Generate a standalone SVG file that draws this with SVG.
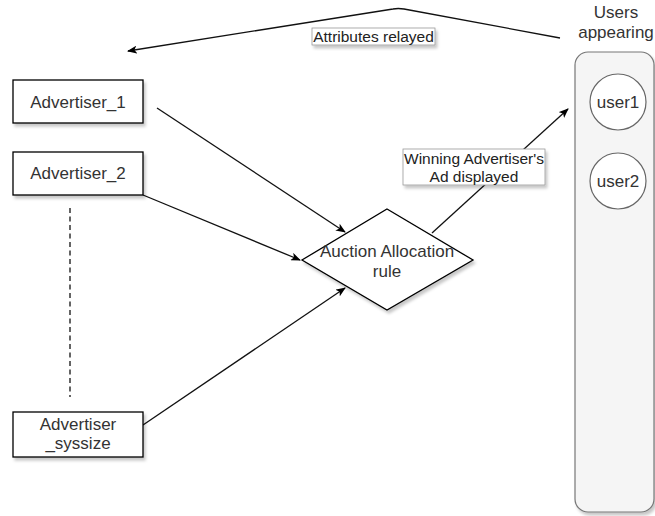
<svg xmlns="http://www.w3.org/2000/svg" width="655" height="516" viewBox="0 0 655 516">
<style>
.box{fill:#fff;stroke:#000;stroke-width:1.3}
.t{font-family:"Liberation Sans",Arial,sans-serif;font-size:17px;fill:#333;text-anchor:middle}
.lbl{font-family:"Liberation Sans",Arial,sans-serif;font-size:15.5px;fill:#222;text-anchor:middle}
.lb{fill:#fff;stroke:#999;stroke-width:0.8}
.ln{fill:none;stroke:#111;stroke-width:1.3}
</style>
<defs>
<filter id="sh" x="-20%" y="-20%" width="150%" height="150%">
<feDropShadow dx="2" dy="3" stdDeviation="1.5" flood-color="#000" flood-opacity="0.22"/>
</filter>
<marker id="ar" viewBox="0 0 10 8" refX="9" refY="4" markerWidth="10" markerHeight="8" markerUnits="userSpaceOnUse" orient="auto">
<path d="M0,0 L10,4 L0,8 L2.5,4 z" fill="#000"/>
</marker>
</defs>
<g id="users">
<rect x="575" y="52" width="79" height="460" rx="13" fill="#f5f5f5" stroke="#777" stroke-width="1.2" filter="url(#sh)"/>
<text class="t" x="616" y="18">Users</text>
<text class="t" x="616" y="38">appearing</text>
</g>
<g id="user1">
<circle cx="618" cy="102" r="28" fill="#fff" stroke="#666" stroke-width="1.2"/>
<text class="t" x="618" y="108">user1</text>
</g>
<g id="user2">
<circle cx="618" cy="181" r="28" fill="#fff" stroke="#666" stroke-width="1.2"/>
<text class="t" x="618" y="187">user2</text>
</g>
<g id="connectors">
<line class="ln" x1="70" y1="208" x2="70" y2="397" stroke-dasharray="5 3.5"/>
<line class="ln" x1="157" y1="108" x2="345" y2="232" marker-end="url(#ar)"/>
<line class="ln" x1="143" y1="195" x2="300" y2="260" marker-end="url(#ar)"/>
<line class="ln" x1="143" y1="425" x2="345" y2="288" marker-end="url(#ar)"/>
<line class="ln" x1="432" y1="233" x2="568" y2="109" marker-end="url(#ar)"/>
<path class="ln" d="M560,38 L404,9 Q398,8 393,9 L128,51" marker-end="url(#ar)"/>
</g>
<g id="label-attributes">
<rect class="lb" x="312" y="28" width="123" height="17" filter="url(#sh)"/>
<text class="lbl" x="373.5" y="42">Attributes relayed</text>
</g>
<g id="label-winning">
<rect class="lb" x="403" y="149" width="142" height="36" filter="url(#sh)"/>
<text class="lbl" x="474" y="164">Winning Advertiser's</text>
<text class="lbl" x="474" y="182">Ad displayed</text>
</g>
<g id="advertiser1">
<rect class="box" x="13" y="80" width="130" height="43" filter="url(#sh)"/>
<text class="t" x="78" y="108">Advertiser_1</text>
</g>
<g id="advertiser2">
<rect class="box" x="13" y="152" width="130" height="43" filter="url(#sh)"/>
<text class="t" x="78" y="179">Advertiser_2</text>
</g>
<g id="advertiser-syssize">
<rect class="box" x="13" y="412" width="130" height="45" filter="url(#sh)"/>
<text class="t" x="78" y="430">Advertiser</text>
<text class="t" x="78" y="449">_syssize</text>
</g>
<g id="auction">
<polygon class="box" points="387,209 473,260 387,310 302,260" filter="url(#sh)"/>
<text class="t" x="387" y="257">Auction Allocation</text>
<text class="t" x="387" y="277">rule</text>
</g>
</svg>
